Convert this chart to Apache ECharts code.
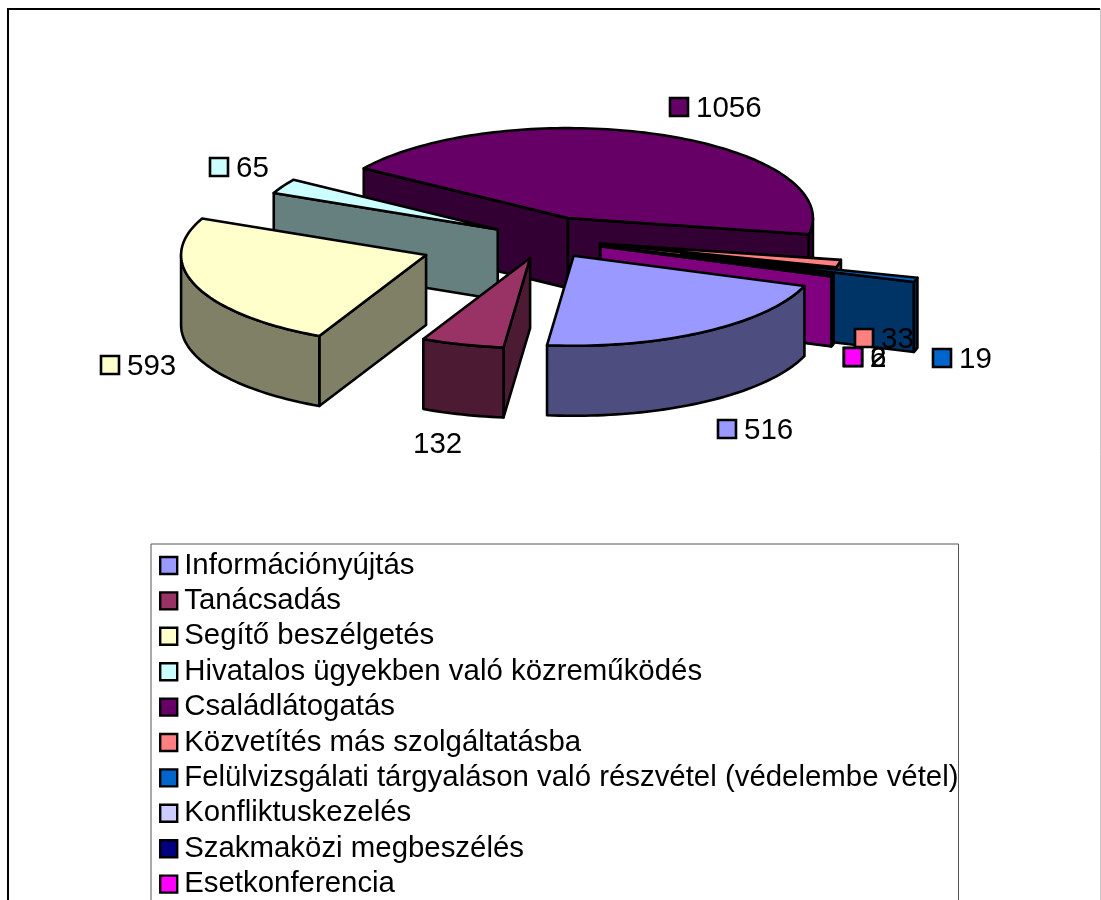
<!DOCTYPE html>
<html>
<head>
<meta charset="utf-8">
<style>html,body{margin:0;padding:0;background:#fff;overflow:hidden}#c{width:1101px;height:900px}</style>
<script src="https://cdn.jsdelivr.net/npm/echarts@6/dist/echarts.min.js"></script>
</head>
<body>
<div id="c"></div>
<script>
const categories = ['Információnyújtás','Tanácsadás','Segítő beszélgetés','Hivatalos ügyekben való közreműködés','Családlátogatás','Közvetítés más szolgáltatásba','Felülvizsgálati tárgyaláson való részvétel (védelembe vétel)','Konfliktuskezelés','Szakmaközi megbeszélés','Esetkonferencia'];
const values = [516,132,593,65,1056,33,19,6,2,2];
const topColors = ['#9999FF','#993366','#FFFFCC','#CCFFFF','#660066','#FF8080','#0066CC','#CCCCFF','#000080','#FF00FF'];
const wallColors = ['#4D4D80','#4D1A33','#808066','#668080','#330033','#804040','#003366','#666680','#000040','#800080'];
// pie layout
const firstSliceAngle = 109.6, cx = 545, cy = 239, rx = 245, ry = 90, depth = 70;
const explode = [0.22,0.22,0.517,0.22,0.25,0.23,0.58,0.24,0.24,0.24];
const paintOrder = [4,3,5,6,7,8,9,2,1,0];
const labelAnchors = [[727,429],[421,443],[110,365],[219,167],[679,107],[864,338],[942,358],[853,357],[853,357],[853,357]];
const showSwatch = [1,0,1,1,1,1,1,1,1,1];

const total = values.reduce((a,b)=>a+b,0);
const spans = []; let acc = firstSliceAngle;
values.forEach(v=>{const s=acc; acc+=v/total*360; spans.push([s,acc]);});
const rad = d=>d*Math.PI/180;

function renderSlice(params, api){
  const i = api.value(0);
  const [s,e] = spans[i];
  const mid = rad((s+e)/2), t = explode[i];
  const ax = cx + t*rx*Math.sin(mid), ay = cy - t*ry*Math.cos(mid);
  const P = (deg,h)=>[ax+rx*Math.sin(rad(deg)), ay-ry*Math.cos(rad(deg))+(h||0)];
  const arc = (a,b,h)=>{const n=Math.max(2,Math.ceil((b-a)/1.5)),o=[];for(let k=0;k<=n;k++)o.push(P(a+(b-a)*k/n,h));return o;};
  const line = {stroke:'#000',lineWidth:2.6,lineJoin:'round'};
  const poly = (pts,fill)=>({type:'polygon',shape:{points:pts},style:Object.assign({fill:fill},line)});
  const children = [];
  const wall = (deg)=>poly([[ax,ay],P(deg),P(deg,depth),[ax,ay+depth]],wallColors[i]);
  if (Math.sin(rad(s))<0) children.push(wall(s));
  if (Math.sin(rad(e))>0) children.push(wall(e));
  // outer rim: the part of the arc that faces the viewer (90..270 degrees)
  [[90,270],[450,630]].forEach(r=>{
    const a=Math.max(s,r[0]), b=Math.min(e,r[1]);
    if (b>a) children.push(poly(arc(a,b,0).concat(arc(a,b,depth).reverse()),wallColors[i]));
  });
  children.push(poly([[ax,ay]].concat(arc(s,e,0)),topColors[i]));
  const [lx,ly] = labelAnchors[i];
  if (showSwatch[i]) children.push({type:'rect',z2:100,shape:{x:lx-9,y:ly-9,width:18,height:18},style:{fill:topColors[i],stroke:'#000',lineWidth:2.6}});
  children.push({type:'text',z2:101,style:{x:lx+(showSwatch[i]?17:-8),y:ly+1.5,text:String(api.value(1)),fill:'#000',font:'29.5px "Liberation Sans"',textVerticalAlign:'middle',verticalAlign:'middle'}});
  return {type:'group',children};
}

const series = paintOrder.map(i=>({
  type:'custom',name:categories[i],coordinateSystem:'none',
  itemStyle:{color:topColors[i]},
  renderItem:renderSlice,
  data:[{value:[i,values[i]],name:categories[i]}],
  silent:true,animation:false
}));

const chart = echarts.init(document.getElementById('c'),null,{renderer:'canvas'});
chart.setOption({
  animation:false,
  backgroundColor:'#fff',
  graphic:[{type:'polyline',silent:true,z:-1,shape:{points:[[8,900],[8,9],[1100,9]]},style:{fill:null,stroke:'#000',lineWidth:2}},
           {type:'line',silent:true,z:-1,shape:{x1:1100.5,y1:9,x2:1100.5,y2:900},style:{stroke:'#c8c8c8',lineWidth:1}}],
  legend:{
    orient:'vertical',left:151,top:544,height:560,
    data:categories,
    icon:'rect',itemWidth:17,itemHeight:17,itemGap:6.4,
    padding:[7,0,40,8],
    itemStyle:{borderColor:'#000',borderWidth:2.4},
    textStyle:{color:'#000',fontFamily:'Liberation Sans',fontSize:29.4,padding:[0,0,0,2]},
    borderColor:'#555',borderWidth:1,backgroundColor:'#fff',
    selectedMode:false
  },
  series
});
</script>
</body>
</html>
